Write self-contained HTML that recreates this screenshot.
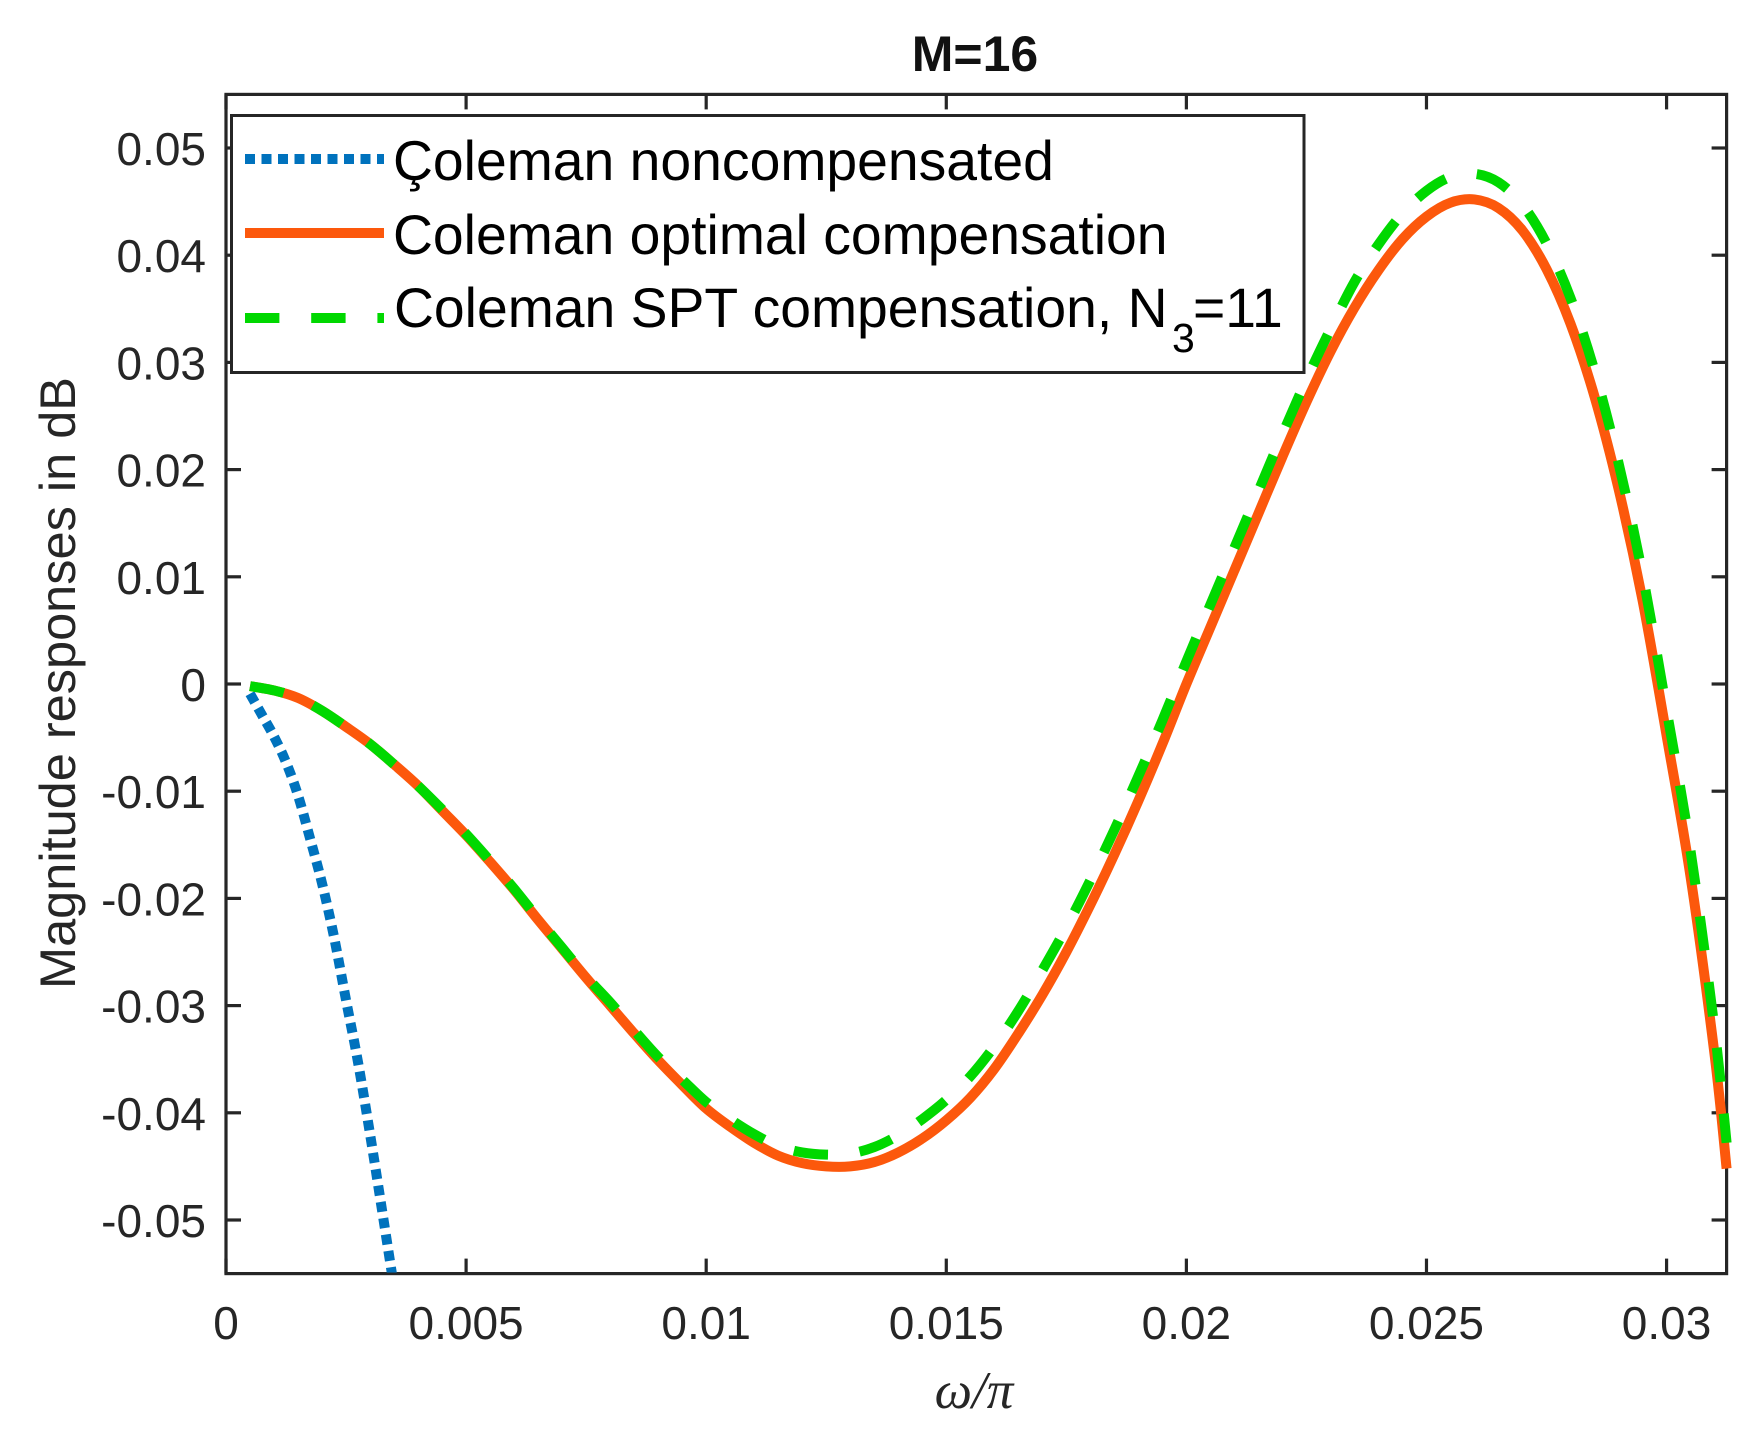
<!DOCTYPE html>
<html lang="en">
<head>
<meta charset="utf-8">
<title>M=16 magnitude responses</title>
<style>
  html, body { margin: 0; padding: 0; background: #fff; }
  svg { display: block; }
  text { font-family: "Liberation Sans", Arial, sans-serif; }
</style>
</head>
<body>
<svg id="chart" xmlns="http://www.w3.org/2000/svg" width="1757" height="1436" viewBox="0 0 1757 1436">
  <rect x="0" y="0" width="1757" height="1436" fill="#ffffff"/>
  <defs>
    <clipPath id="plot-clip"><rect x="226" y="90" width="1506" height="1182.5"/></clipPath>
  </defs>
  <text x="975" y="71" font-size="50" font-weight="bold" text-anchor="middle" fill="#111">M=16</text>
  <g id="series" clip-path="url(#plot-clip)"></g>
  <g id="axes"></g>
  <text transform="translate(75,683) rotate(-90)" font-size="50.5" text-anchor="middle" fill="#262626">Magnitude responses in dB</text>
  <text x="974" y="1408" font-size="53" font-style="italic" text-anchor="middle" fill="#262626" style="font-family:'Liberation Serif','DejaVu Serif',serif">ω/π</text>
  <g>
    <rect x="231.5" y="115.5" width="1072.5" height="257" fill="#ffffff" stroke="#262626" stroke-width="3"/>
    <line x1="245" y1="159" x2="384" y2="159" stroke="#0072BD" stroke-width="10" stroke-dasharray="10 6.5"/>
    <line x1="245" y1="233" x2="384" y2="233" stroke="#FC580C" stroke-width="10"/>
    <line x1="245" y1="318" x2="384" y2="318" stroke="#00D800" stroke-width="10" stroke-dasharray="34.4 31.8"/>
    <text x="393" y="180" font-size="55.3" fill="#000">Çoleman noncompensated</text>
    <text x="393" y="254" font-size="55.3" fill="#000">Coleman optimal compensation</text>
    <text x="394" y="327" font-size="55.3" fill="#000">Coleman SPT compensation, N</text>
    <text x="1172" y="352" font-size="41" fill="#000">3</text>
    <text x="1193" y="327" font-size="55.3" fill="#000">=11</text>
  </g>
</svg>
<script>
const xTicks = [0, 0.005, 0.01, 0.015, 0.02, 0.025, 0.03];
const xTickLabels = ['0', '0.005', '0.01', '0.015', '0.02', '0.025', '0.03'];
const yTicks = [-0.05, -0.04, -0.03, -0.02, -0.01, 0, 0.01, 0.02, 0.03, 0.04, 0.05];
const yTickLabels = ['-0.05', '-0.04', '-0.03', '-0.02', '-0.01', '0', '0.01', '0.02', '0.03', '0.04', '0.05'];
const compensatedX = [0.0005, 0.001, 0.0015, 0.002, 0.0025, 0.003, 0.0035, 0.004, 0.0045, 0.005,
  0.0055, 0.006, 0.0065, 0.007, 0.0075, 0.008, 0.0085, 0.009, 0.0095, 0.01,
  0.0105, 0.011, 0.0115, 0.012, 0.0125, 0.013, 0.0135, 0.014, 0.0145, 0.015,
  0.0155, 0.016, 0.0165, 0.017, 0.0175, 0.018, 0.0185, 0.019, 0.0195, 0.02,
  0.0205, 0.021, 0.0215, 0.022, 0.0225, 0.023, 0.0235, 0.024, 0.0245, 0.025,
  0.0255, 0.026, 0.0265, 0.027, 0.0275, 0.028, 0.0285, 0.029, 0.0295, 0.03,
  0.0305, 0.031, 0.03125];
const optimalValues = [-0.0002, -0.0006, -0.0013, -0.0025, -0.0040, -0.0056, -0.0075, -0.0095, -0.0118, -0.0141,
  -0.0166, -0.0192, -0.0220, -0.0247, -0.0274, -0.0300, -0.0326, -0.0351, -0.0374, -0.0396,
  -0.0413, -0.0428, -0.0440, -0.0447, -0.0450, -0.0450, -0.0446, -0.0437, -0.0424, -0.0407,
  -0.0386, -0.0359, -0.0326, -0.0290, -0.0250, -0.0206, -0.0159, -0.0109, -0.0056, 0.0000,
  0.0053, 0.0106, 0.0159, 0.0212, 0.0263, 0.0310, 0.0351, 0.0386, 0.0415, 0.0436,
  0.0449, 0.0452, 0.0444, 0.0423, 0.0387, 0.0336, 0.0268, 0.0182, 0.0078, -0.0048,
  -0.0180, -0.0346, -0.0452];
const sptValues = [-0.0002, -0.0006, -0.0013, -0.0025, -0.0040, -0.0056, -0.0075, -0.0095, -0.0117, -0.0140,
  -0.0165, -0.0191, -0.0219, -0.0246, -0.0273, -0.0297, -0.0323, -0.0348, -0.0369, -0.0390,
  -0.0406, -0.0420, -0.0431, -0.0437, -0.0439, -0.0438, -0.0432, -0.0421, -0.0406, -0.0388,
  -0.0366, -0.0338, -0.0305, -0.0267, -0.0227, -0.0183, -0.0136, -0.0086, -0.0034, 0.0021,
  0.0074, 0.0127, 0.0180, 0.0233, 0.0284, 0.0331, 0.0375, 0.0410, 0.0439, 0.0460,
  0.0473, 0.0476, 0.0468, 0.0447, 0.0411, 0.0360, 0.0292, 0.0206, 0.0102, -0.0024,
  -0.0156, -0.0322, -0.0428];
const noncompensatedX = [0.0005, 0.00075, 0.001, 0.00125, 0.0015, 0.00175, 0.002, 0.00225, 0.0025, 0.00275, 0.003, 0.00325, 0.0035];
const noncompensatedValues = [-0.0009, -0.0029, -0.0049, -0.0073, -0.0104, -0.0144, -0.0186, -0.0236, -0.0295, -0.0353, -0.0420, -0.0491, -0.0563];

const NS = 'http://www.w3.org/2000/svg';
const plotLeft = 226, plotRight = 1726.6, plotTop = 94.4, plotBottom = 1273.6;
const xMin = 0, xMax = 0.03125, yMin = -0.055, yMax = 0.055;
const tickLen = 15;
const axisColor = '#262626';

function sx(v) { return plotLeft + (v - xMin) / (xMax - xMin) * (plotRight - plotLeft); }
function sy(v) { return plotBottom - (v - yMin) / (yMax - yMin) * (plotBottom - plotTop); }

function make(tag, attrs, parent) {
  const el = document.createElementNS(NS, tag);
  for (const k in attrs) el.setAttribute(k, attrs[k]);
  parent.appendChild(el);
  return el;
}

// Smooth path through the data points (Catmull-Rom converted to cubic Bezier).
function pathOf(xs, ys) {
  const p = xs.map(function (x, i) { return [sx(x), sy(ys[i])]; });
  let d = 'M' + p[0][0].toFixed(2) + ' ' + p[0][1].toFixed(2);
  for (let i = 0; i < p.length - 1; i++) {
    const a = p[Math.max(i - 1, 0)], b = p[i], c = p[i + 1], e = p[Math.min(i + 2, p.length - 1)];
    const c1x = b[0] + (c[0] - a[0]) / 6, c1y = b[1] + (c[1] - a[1]) / 6;
    const c2x = c[0] - (e[0] - b[0]) / 6, c2y = c[1] - (e[1] - b[1]) / 6;
    d += 'C' + c1x.toFixed(2) + ' ' + c1y.toFixed(2) + ' ' + c2x.toFixed(2) + ' ' + c2y.toFixed(2) + ' ' + c[0].toFixed(2) + ' ' + c[1].toFixed(2);
  }
  return d;
}

const seriesGroup = document.getElementById('series');
const axesGroup = document.getElementById('axes');

const blueLine = make('path', { d: pathOf(noncompensatedX, noncompensatedValues), fill: 'none', stroke: '#0072BD', 'stroke-width': 10, 'stroke-dasharray': '10 6.5' }, seriesGroup);



const orangeLine = make('path', { d: pathOf(compensatedX, optimalValues), fill: 'none', stroke: '#FC580C', 'stroke-width': 10, 'stroke-linejoin': 'round' }, seriesGroup);



const greenLine = make('path', { d: pathOf(compensatedX, sptValues), fill: 'none', stroke: '#00D800', 'stroke-width': 10, 'stroke-dasharray': '34.4 31.8' }, seriesGroup);



const box = make('rect', { x: plotLeft, y: plotTop, width: plotRight - plotLeft, height: plotBottom - plotTop, fill: 'none', stroke: axisColor, 'stroke-width': 3.2 }, axesGroup);



xTicks.forEach(function (t, i) {
  const x = sx(t);
  const low = make('line', { x1: x, y1: plotBottom, x2: x, y2: plotBottom - tickLen, stroke: axisColor, 'stroke-width': 3.2 }, axesGroup);
  
  
  const high = make('line', { x1: x, y1: plotTop, x2: x, y2: plotTop + tickLen, stroke: axisColor, 'stroke-width': 3.2 }, axesGroup);
  
  
  const label = make('text', { x: x, y: 1339, 'font-size': 46, 'text-anchor': 'middle', fill: axisColor }, axesGroup);
  label.textContent = xTickLabels[i];
  
  
});

yTicks.forEach(function (t, i) {
  const y = sy(t);
  const left = make('line', { x1: plotLeft, y1: y, x2: plotLeft + tickLen, y2: y, stroke: axisColor, 'stroke-width': 3.2 }, axesGroup);
  
  
  const right = make('line', { x1: plotRight, y1: y, x2: plotRight - tickLen, y2: y, stroke: axisColor, 'stroke-width': 3.2 }, axesGroup);
  
  
  const label = make('text', { x: 206, y: y + 17, 'font-size': 46, 'text-anchor': 'end', fill: axisColor }, axesGroup);
  label.textContent = yTickLabels[i];
  
  
});

// Curves paint over the axes, as they do at the right edge of the plot.
seriesGroup.parentNode.insertBefore(axesGroup, seriesGroup);
</script>
</body>
</html>
